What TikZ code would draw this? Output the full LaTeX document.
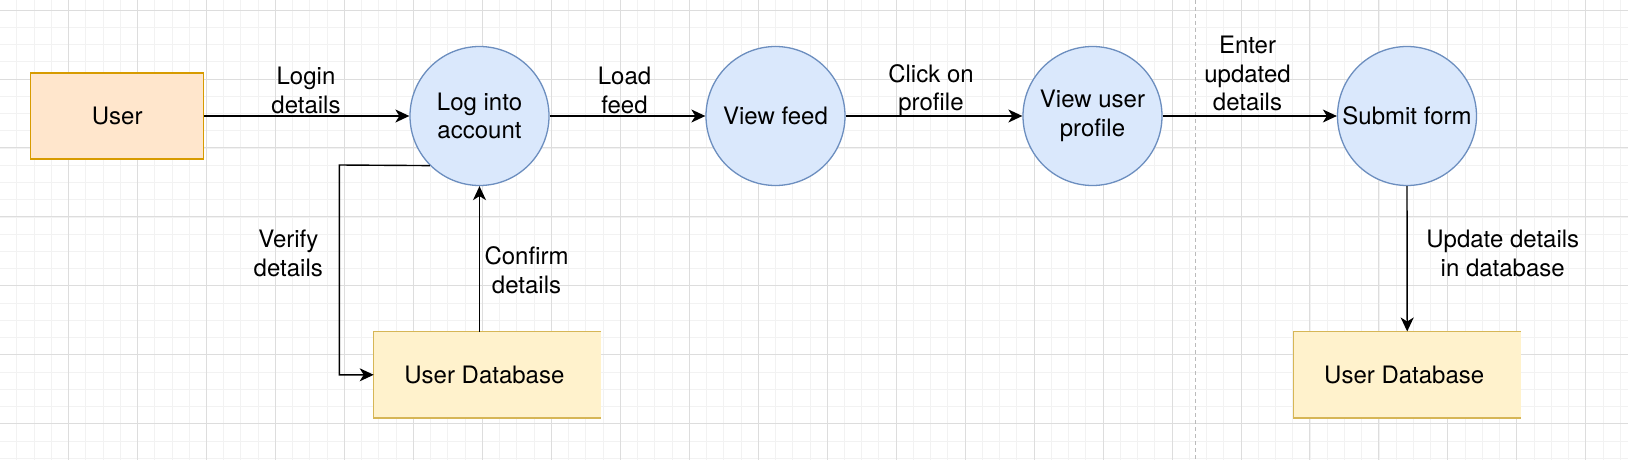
\documentclass[tikz,border=0pt]{standalone}
\usepackage{fontspec}
\setmainfont{TeX Gyre Heros}
\usetikzlibrary{arrows.meta,calc}
\definecolor{gridminor}{HTML}{F2F2F2}
\definecolor{gridmajor}{HTML}{DDDDDD}
\definecolor{userfill}{HTML}{FFE6CC}
\definecolor{userdraw}{HTML}{D79B00}
\definecolor{dbfill}{HTML}{FFF2CC}
\definecolor{dbdraw}{HTML}{D6B656}
\definecolor{procfill}{HTML}{DAE8FC}
\definecolor{procdraw}{HTML}{6C8EBF}
\definecolor{sepline}{HTML}{BBBBBB}
\tikzset{
  txt/.style={font=\fontsize{24}{28.4}\selectfont, align=center, inner sep=0pt},
  userbox/.style={txt, rectangle, draw=userdraw, fill=userfill, line width=1.3pt, minimum width=173pt, minimum height=86pt},
  dbbox/.style={txt, rectangle, fill=dbfill, minimum width=227pt, minimum height=86pt},
  dbedge/.style={draw=dbdraw, line width=1.3pt},
  proc/.style={txt, circle, draw=procdraw, fill=procfill, line width=1.3pt, minimum size=139pt},
  lbl/.style={txt},
  arr/.style={line width=1.4pt, -{Stealth[length=14pt,width=13pt,inset=4pt]}},
  minorg/.style={gridminor, line width=0.8pt},
  majorg/.style={gridmajor, line width=0.9pt},
}
\begin{document}
\begin{tikzpicture}[x=1pt,y=-1pt]
\useasboundingbox (0,0) rectangle (1628,460);
\fill[white] (0,0) rectangle (1628,460);
% grid
\foreach \i in {0,...,95} {\draw[minorg] ({\i*17.2425-0.5},0) -- ({\i*17.2425-0.5},460);}
\foreach \i in {0,...,27} {\draw[minorg] (0,{\i*17.2425-7.24}) -- (1628,{\i*17.2425-7.24});}
\foreach \i in {0,...,24} {\draw[majorg] ({\i*68.97-0.5},0) -- ({\i*68.97-0.5},460);}
\foreach \i in {0,...,6} {\draw[majorg] (0,{\i*68.97+10}) -- (1628,{\i*68.97+10});}
% separator
\draw[sepline, line width=1pt, dash pattern=on 4pt off 3pt] (1195,0) -- (1195,460);

% nodes
\node[userbox] (user) at (117.2,116) {User};
\node[proc] (log) at (479.5,116) {Log into\\account};
\node[proc] (feed) at (775.5,116) {View feed};
\node[proc] (prof) at (1092.5,116) {View user\\profile};
\node[proc] (sub) at (1407,116) {Submit form};
\node[dbbox] (db1) at (487.4,374.8) {\hspace*{-6pt}User Database};
\draw[dbedge] (db1.north east) -- (db1.north west) -- (db1.south west) -- (db1.south east);
\node[dbbox] (db2) at (1407.2,374.7) {\hspace*{-6pt}User Database};
\draw[dbedge] (db2.north east) -- (db2.north west) -- (db2.south west) -- (db2.south east);

% connectors
\draw[arr] (user.east) -- (log.west);
\draw[arr] (log.east) -- (feed.west);
\draw[arr] (feed.east) -- (prof.west);
\draw[arr] (prof.east) -- (sub.west);
\draw[arr] (sub.south) -- (db2.north);
\draw[arr] (log.south |- db1.north) -- (log.south);
\coordinate (vcorner) at (339.3,165);
\draw[arr] (log.225) -- (vcorner) |- (db1.west);

% labels
\node[lbl] (l1) at (306,90.5) {Login\\details};
\node[lbl] (l2) at (624.5,90.5) {Load\\feed};
\node[lbl] (l3) at (931,90) {Click on\\profile};
\node[lbl] (l4) at (1247.5,73.8) {Enter\\updated\\details};
\node[lbl] (l5) at (1502.7,253.5) {Update details\\in database};
\node[lbl] (l6) at (288.3,253.5) {Verify\\details};
\node[lbl] (l7) at (526.5,270.2) {Confirm\\details};
\end{tikzpicture}
\end{document}
